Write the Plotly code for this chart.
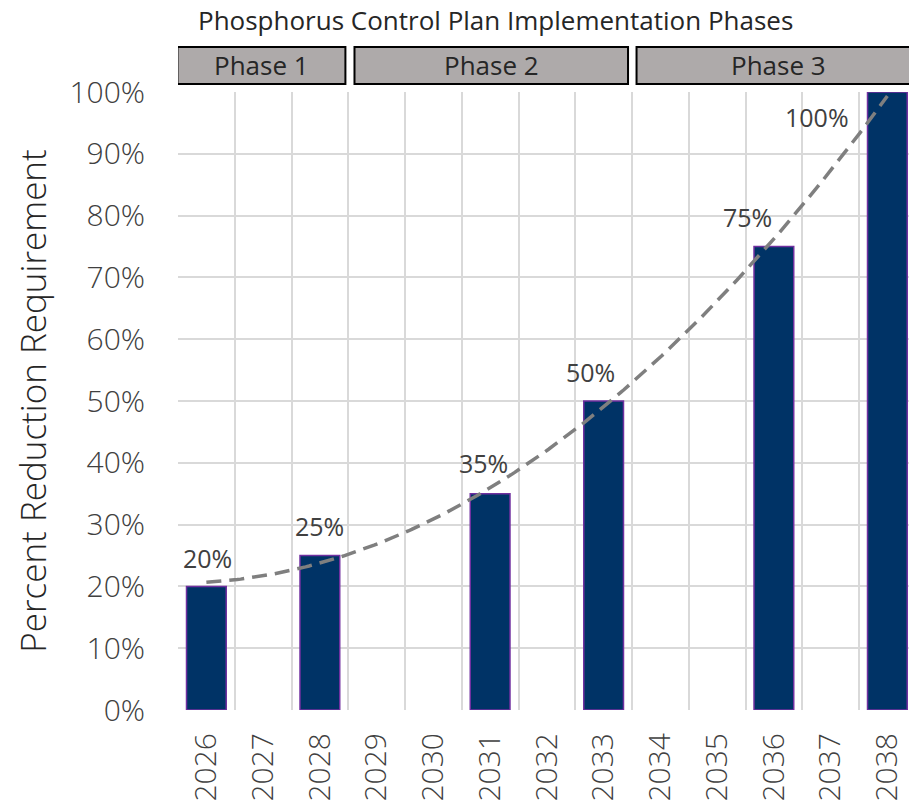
import numpy as np
import plotly.graph_objects as go

# ---- data ----
years = [str(y) for y in range(2026, 2039)]
reduction = [20, None, 25, None, None, 35, None, 50, None, None, 75, None, 100]
y_ticks = list(range(0, 101, 10))
y_tick_labels = [f"{v}%" for v in y_ticks]
phase_names = ["Phase 1", "Phase 2", "Phase 3"]
phase_start_idx = [0, 3, 8]      # first year index of each phase
phase_end_idx = [2, 7, 12]       # last year index of each phase
chart_title = "Phosphorus Control Plan Implementation Phases"
y_title = "Percent Reduction Requirement"

# ---- styling ----
FONT = "Open Sans"
LIGHT = 300
TXT = "#404040"
GRID = "#D9D9D9"
BAR = "#003366"
BAR_EDGE = "#7030A0"
TREND = "#7F7F7F"
BOX_FILL = "#AEAAAA"

W, H = 909, 807
ML, MR, MT, MB = 178, 0, 92, 97
CAT_PX = 56.75
x_max = -0.5 + (W - ML - MR) / CAT_PX

# label offsets (px) as placed in the original chart
label_shift = {0: (1, 28), 2: (0, 30), 5: (-7, 31), 7: (-13, 29), 10: (-26, 30), 12: (-70, -25)}
# phase box extents (in category units, relative to boundaries)
box_pad_l = [-0.01, 0.11, 0.08]
box_pad_r = [-0.05, -0.07, 0.08]

# ---- trendline: 2nd order polynomial fit of the bar values ----
idx = np.array([i for i, v in enumerate(reduction) if v is not None], dtype=float)
vals = np.array([v for v in reduction if v is not None], dtype=float)
coef = np.polyfit(idx, vals, 2)
tx = np.linspace(idx.min(), idx.max(), 200)
ty = np.polyval(coef, tx)

fig = go.Figure()
fig.add_trace(go.Bar(
    x=years, y=reduction, width=0.7,
    marker=dict(color=BAR, line=dict(color=BAR_EDGE, width=1.5)),
    hoverinfo="skip", showlegend=False, xaxis="x", yaxis="y",
))
fig.add_trace(go.Scatter(
    x=tx, y=ty, mode="lines", xaxis="x2", yaxis="y",
    line=dict(color=TREND, width=3.5, dash="15px,8px"),
    hoverinfo="skip", showlegend=False,
))

annotations = []
for i, v in enumerate(reduction):
    if v is None:
        continue
    dx, dy = label_shift.get(i, (0, 28))
    annotations.append(dict(
        x=i, y=v, xref="x2", yref="y", text=f"{v}%", showarrow=False,
        xshift=dx, yshift=dy, font=dict(family=FONT, size=25, color=TXT, weight=400),
    ))

shapes = []
for k, name in enumerate(phase_names):
    x0 = phase_start_idx[k] - 0.5 + box_pad_l[k]
    x1 = phase_end_idx[k] + 0.5 + box_pad_r[k]
    shapes.append(dict(
        type="rect", xref="x2", yref="paper", x0=x0, x1=x1,
        y0=1.0129, y1=1.0728, fillcolor=BOX_FILL,
        line=dict(color="#000000", width=2), layer="above",
    ))
    annotations.append(dict(
        x=(x0 + x1) / 2, y=1.043, xref="x2", yref="paper", text=name,
        showarrow=False, font=dict(family=FONT, size=26, color="#262626"),
        yanchor="middle",
    ))

annotations.append(dict(
    x=(495 - ML) / (W - ML - MR), y=(H - MB - 20) / (H - MT - MB),
    xref="paper", yref="paper", text=chart_title, showarrow=False,
    font=dict(family=FONT, size=26, color="#262626"), yanchor="middle",
))

fig.update_layout(
    width=W, height=H,
    margin=dict(l=ML, r=MR, t=MT, b=MB, pad=0),
    paper_bgcolor="white", plot_bgcolor="white",
    bargap=0.3,
    font=dict(family=FONT, color=TXT),
    xaxis=dict(
        type="category", categoryorder="array", categoryarray=years,
        range=[-0.5, x_max], tickson="boundaries",
        showgrid=True, gridcolor=GRID, gridwidth=2,
        showline=False, zeroline=False, ticks="",
        tickangle=-90, tickfont=dict(family=FONT, size=30, color=TXT, weight=LIGHT),
        ticklabelstandoff=16,
    ),
    xaxis2=dict(
        type="linear", overlaying="x", range=[-0.5, x_max],
        visible=False, showgrid=False, zeroline=False,
    ),
    yaxis=dict(
        range=[0, 100], tickmode="array", tickvals=y_ticks, ticktext=y_tick_labels,
        showgrid=True, gridcolor=GRID, gridwidth=2,
        zeroline=False, showline=False, ticks="",
        tickfont=dict(family=FONT, size=30, color=TXT, weight=LIGHT),
        ticklabelstandoff=32,
        title=dict(text=y_title, font=dict(family=FONT, size=35, color="#262626", weight=LIGHT), standoff=12),
    ),
    shapes=shapes,
    annotations=annotations,
)

fig.write_html("out.html")
